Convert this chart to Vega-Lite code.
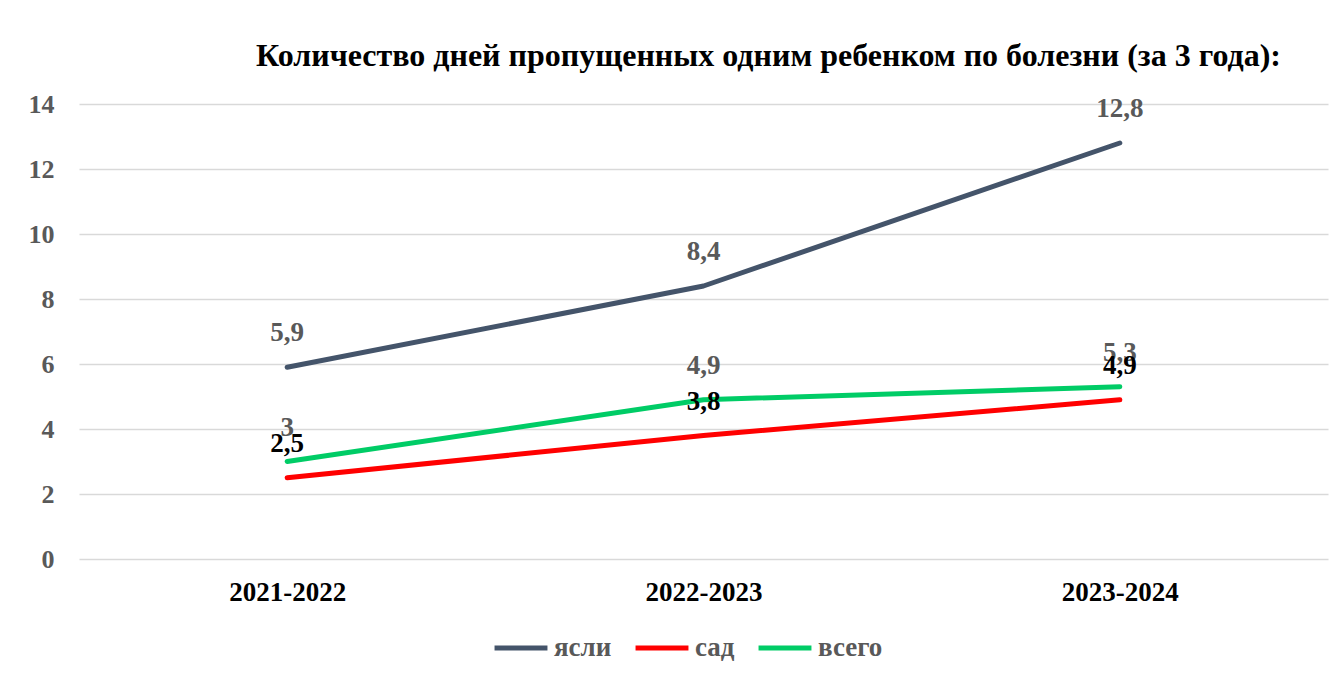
{
  "$schema": "https://vega.github.io/schema/vega-lite/v6.json",
  "width": 1249,
  "height": 455,
  "autosize": {"type": "none"},
  "padding": {"left": 79, "top": 104, "right": 13, "bottom": 118},
  "background": "white",
  "config": {
    "locale": {"number": {"decimal": ",", "thousands": " ", "grouping": [3], "currency": ["", " ₽"]}},
    "view": {"stroke": null},
    "font": "Liberation Serif"
  },
  "title": {
    "text": "Количество дней пропущенных одним ребенком по болезни (за 3 года):",
    "font": "Liberation Serif",
    "fontSize": 32,
    "fontWeight": "bold",
    "color": "black",
    "anchor": "middle",
    "dx": 65,
    "offset": 18
  },
  "data": {
    "values": [
      {"year": "2021-2022", "s": "ясли", "v": 5.9},
      {"year": "2022-2023", "s": "ясли", "v": 8.4},
      {"year": "2023-2024", "s": "ясли", "v": 12.8},
      {"year": "2021-2022", "s": "всего", "v": 3},
      {"year": "2022-2023", "s": "всего", "v": 4.9},
      {"year": "2023-2024", "s": "всего", "v": 5.3},
      {"year": "2021-2022", "s": "сад", "v": 2.5},
      {"year": "2022-2023", "s": "сад", "v": 3.8},
      {"year": "2023-2024", "s": "сад", "v": 4.9}
    ]
  },
  "encoding": {
    "x": {
      "field": "year",
      "type": "ordinal",
      "scale": {"type": "point", "padding": 0.5},
      "axis": {
        "title": null,
        "labelAngle": 0,
        "labelFont": "Liberation Serif",
        "labelFontSize": 27,
        "labelFontWeight": "bold",
        "labelColor": "black",
        "labelPadding": 20,
        "ticks": false,
        "domain": false,
        "grid": false
      }
    },
    "y": {
      "field": "v",
      "type": "quantitative",
      "scale": {"domain": [0, 14], "nice": false},
      "axis": {
        "title": null,
        "values": [0, 2, 4, 6, 8, 10, 12, 14],
        "labelFont": "Liberation Serif",
        "labelFontSize": 26,
        "labelFontWeight": "bold",
        "labelColor": "#595959",
        "labelPadding": 25,
        "ticks": false,
        "domain": false,
        "grid": true,
        "gridColor": "#D9D9D9",
        "gridWidth": 1.5
      }
    }
  },
  "layer": [
    {
      "mark": {"type": "line", "strokeWidth": 5, "strokeCap": "round", "strokeJoin": "round"},
      "encoding": {
        "color": {
          "field": "s",
          "type": "nominal",
          "scale": {"domain": ["ясли", "сад", "всего"], "range": ["#44546A", "#FF0000", "#00CC66"]},
          "legend": {
            "title": null,
            "orient": "none",
            "legendX": 413,
            "legendY": 515,
            "direction": "horizontal",
            "symbolType": "stroke",
            "symbolSize": 2800,
            "symbolStrokeWidth": 5,
            "labelFont": "Liberation Serif",
            "labelFontSize": 27,
            "labelFontWeight": "bold",
            "labelColor": "#595959",
            "labelOffset": 4,
            "columnPadding": 13
          }
        }
      }
    },
    {
      "mark": {"type": "text", "dy": -34, "fontSize": 27, "fontWeight": "bold", "font": "Liberation Serif"},
      "encoding": {
        "text": {"field": "v", "type": "quantitative", "format": "~g"},
        "color": {"condition": {"test": "datum.s === 'сад'", "value": "black"}, "value": "#595959"}
      }
    }
  ]
}
